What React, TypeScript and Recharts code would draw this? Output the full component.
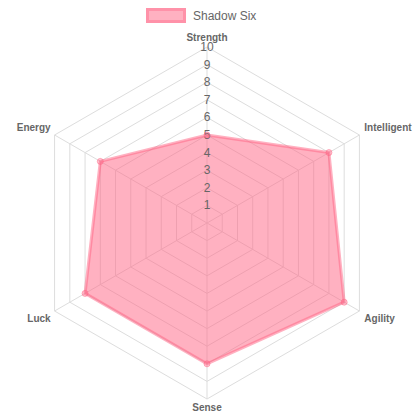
import React from 'react';
import { RadarChart, Radar, PolarGrid, PolarAngleAxis, PolarRadiusAxis, Legend } from 'recharts';

const attributes = ['Strength', 'Intelligent', 'Agility', 'Sense', 'Luck', 'Energy'];
const shadowSix = [5, 8, 9, 8, 8, 7];
const radiusTicks = [0, 1, 2, 3, 4, 5, 6, 7, 8, 9, 10];

const data = attributes.map((attr, i) => ({ attr, value: shadowSix[i] }));

const CX = 207;
const CY = 223;
const R = 176;
const FONT = 'Arial, "Liberation Sans", Helvetica, sans-serif';

const AngleTick = (props: any) => {
  const angle = props.payload.coordinate;
  const rad = (angle * Math.PI) / 180;
  const x = CX + (R + 8) * Math.cos(rad);
  const y = CY - (R + 8) * Math.sin(rad);
  const c = Math.cos(rad);
  const s = Math.sin(rad);
  let anchor = 'middle';
  let dx = 0;
  let dy = 0;
  if (c > 0.1) {
    anchor = 'start';
    dx = -2;
  } else if (c < -0.1) {
    anchor = 'end';
    dx = 3;
  }
  if (s > 0.9) dy = -2;
  else if (s < -0.9) dy = 0;
  else if (s > 0) dy = -4;
  else dy = 3;
  return (
    <text
      x={x + dx}
      y={y + dy}
      textAnchor={anchor}
      dominantBaseline="central"
      fontSize={10}
      fontWeight="bold"
      fontFamily={FONT}
      fill="#666"
    >
      {props.payload.value}
    </text>
  );
};

const RadiusTick = (props: any) => {
  if (props.payload.value === 0) return null;
  return (
    <text
      x={props.x}
      y={props.y}
      textAnchor="middle"
      dominantBaseline="central"
      fontSize={12}
      fontFamily={FONT}
      fill="#666"
    >
      {props.payload.value}
    </text>
  );
};

const LegendContent = () => (
  <div style={{ display: 'flex', alignItems: 'center', paddingLeft: 146, paddingTop: 8, fontFamily: FONT }}>
    <span
      style={{
        display: 'inline-block',
        width: 34,
        height: 9,
        background: 'rgba(255,99,132,0.5)',
        border: '3px solid rgba(255,99,132,0.4)',
        marginRight: 7,
      }}
    />
    <span style={{ fontSize: 12, color: '#666' }}>Shadow Six</span>
  </div>
);

export default function App() {
  return (
    <div style={{ position: 'absolute', left: 0, top: 0, width: 414, height: 414 }}>
      <RadarChart width={414} height={414} data={data} cx={CX} cy={CY} outerRadius={R}>
        <Legend
          verticalAlign="top"
          content={<LegendContent />}
          wrapperStyle={{ top: 0, left: 0, width: 414 }}
        />
        <PolarGrid gridType="polygon" stroke="#ddd" />
        <PolarAngleAxis dataKey="attr" tick={<AngleTick />} tickLine={false} axisLine={false} />
        <PolarRadiusAxis
          angle={90}
          domain={[0, 10]}
          ticks={radiusTicks as any}
          tickCount={11}
          axisLine={false}
          tickLine={false}
          tick={<RadiusTick />}
        />
        <Radar
          name="Shadow Six"
          dataKey="value"
          stroke="rgba(255,99,132,0.5)"
          strokeWidth={3}
          fill="rgb(255,99,132)"
          fillOpacity={0.5}
          dot={{ r: 3, fill: 'rgba(255,99,132,0.7)', stroke: 'rgba(255,99,132,0.5)', strokeWidth: 1 }}
          isAnimationActive={false}
        />
      </RadarChart>
    </div>
  );
}
